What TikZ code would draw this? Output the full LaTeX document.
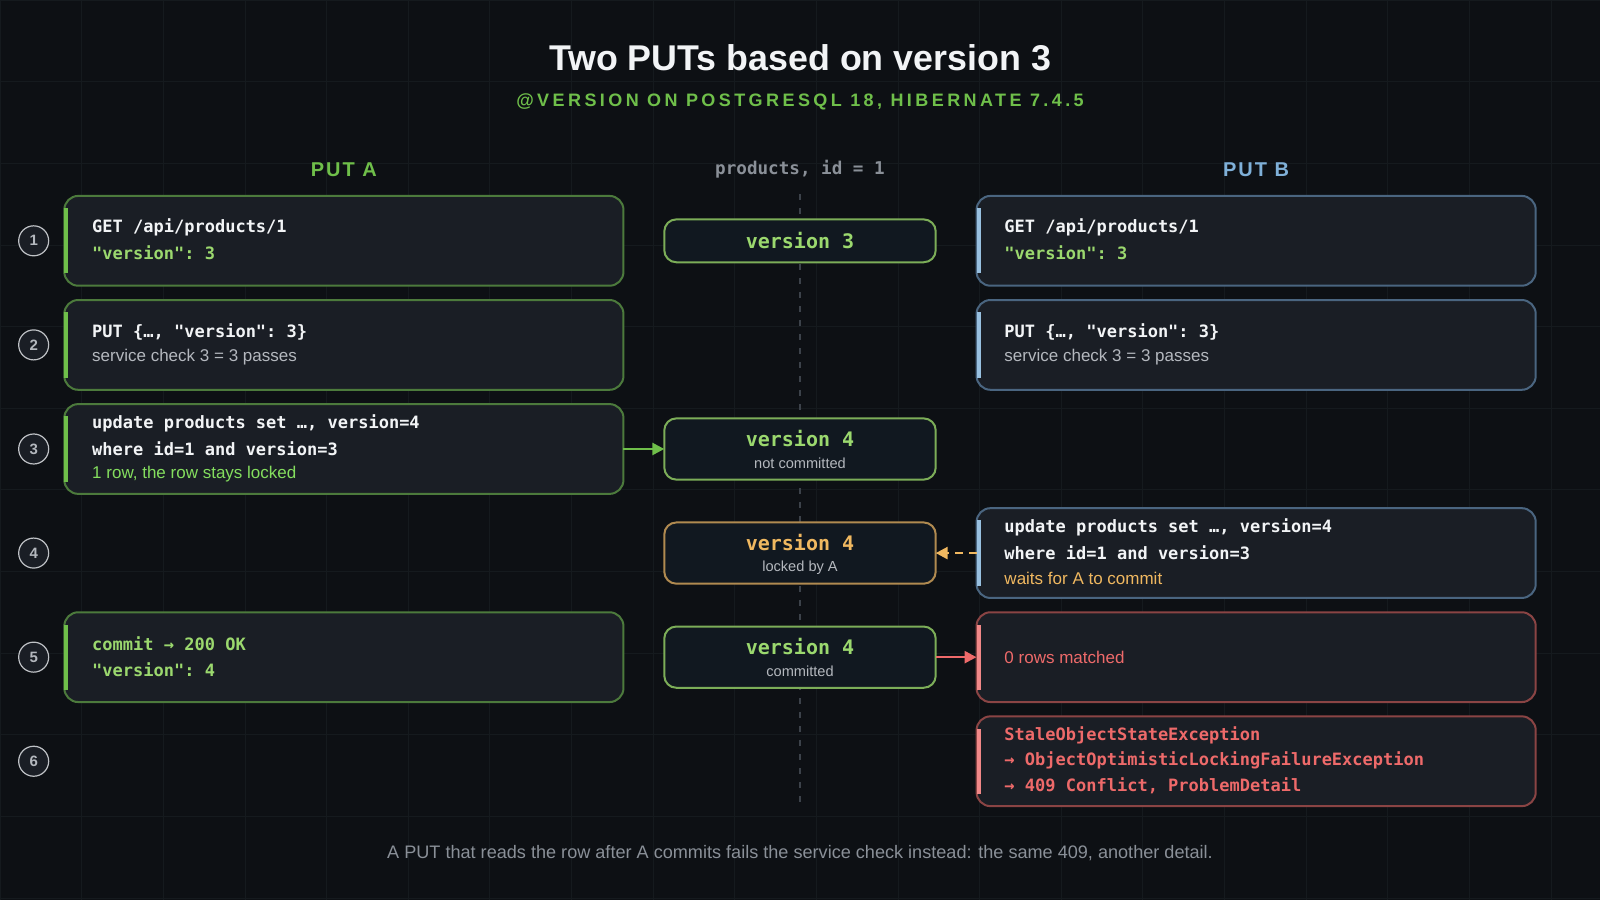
\documentclass[tikz,border=0pt]{standalone}
\usepackage{fontspec}
\setmainfont{Liberation Sans}
\setmonofont{DejaVu Sans Mono}
\usetikzlibrary{arrows.meta}
\definecolor{bg}{HTML}{0D1014}
\definecolor{gridc}{HTML}{151A1E}
\definecolor{boxf}{HTML}{1A1E25}
\definecolor{midf}{HTML}{111820}
\definecolor{gb}{HTML}{4C7A3C}
\definecolor{gt}{HTML}{9BD86E}
\definecolor{gl}{HTML}{6FBF4A}
\definecolor{bb}{HTML}{4A6580}
\definecolor{bt}{HTML}{7FB0D8}
\definecolor{ob}{HTML}{B08A50}
\definecolor{ot}{HTML}{F0B860}
\definecolor{rb}{HTML}{8A4444}
\definecolor{rt}{HTML}{EE6A6A}
\definecolor{grayt}{HTML}{B4B8BE}
\definecolor{dimt}{HTML}{8A9098}
\definecolor{vline}{HTML}{3C424A}
\definecolor{wt}{HTML}{F2F4F6}
\begin{document}
\begin{tikzpicture}[x=0.5102pt,y=-0.5102pt,
  card/.style={rounded corners=7pt,line width=1pt,fill=boxf},
  mid/.style={rounded corners=6pt,line width=1pt,fill=midf},
  mono/.style={font=\ttfamily\bfseries\fontsize{8.5}{12.2}\selectfont,align=left,anchor=west,inner sep=0pt},
  sans/.style={font=\fontsize{8.5}{12.2}\selectfont,anchor=west,inner sep=0pt},
  num/.style={circle,draw=dimt!55,line width=0.6pt,fill=boxf,minimum size=15pt,inner sep=0pt,font=\bfseries\fontsize{7.5}{9}\selectfont,text=grayt},
  ver/.style={font=\ttfamily\bfseries\fontsize{10}{12}\selectfont},
  sub/.style={font=\fontsize{7.3}{9}\selectfont,text=grayt}]
\fill[bg] (0,0) rectangle (1568,882);
\useasboundingbox (0,0) rectangle (1568,882);
\foreach \i in {0,80,...,1560} \draw[gridc,line width=0.4pt] (\i,0)--(\i,882);
\foreach \j in {0,80,...,880} \draw[gridc,line width=0.4pt] (0,\j)--(1568,\j);
% titles
\node[font=\bfseries\fontsize{17.9}{21}\selectfont,text=wt] (title) at (784,57) {Two PUTs based on version 3};
\node[font=\bfseries\fontsize{9}{11}\selectfont\addfontfeatures{LetterSpace=19},text=gl] (subt) at (784,100) {@VERSION ON POSTGRESQL 18, HIBERNATE 7.4.5};
\node[font=\bfseries\fontsize{10}{12}\selectfont\addfontfeatures{LetterSpace=10},text=gl] (ha) at (337,166) {PUT A};
\node[font=\bfseries\fontsize{10}{12}\selectfont\addfontfeatures{LetterSpace=10},text=bt] (hb) at (1231,166) {PUT B};
\node[font=\ttfamily\bfseries\fontsize{8.8}{10}\selectfont,text=dimt] (hm) at (784,166) {products, id = 1};
\draw[vline,line width=0.6pt,dash pattern=on 3pt off 4pt] (784,190)--(784,790);
% numbers
\foreach \n/\y in {1/236,2/338,3/440,4/542,5/644,6/746} \node[num] (n\n) at (33,\y) {\n};
% left cards
\foreach \t/\nm in {192/a1,294/a2,396/a3,600/a5}{
  \draw[card,draw=gb] (63,\t) rectangle (611,\t+88);
  \fill[gl] (63,\t+12) rectangle (67,\t+76);
  \coordinate (\nm) at (611,\t+44);}
% right cards
\foreach \t/\c/\d/\nm in {192/bb/bt/b1,294/bb/bt/b2,498/bb/bt/b4,600/rb/rt/b5,702/rb/rt/b6}{
  \draw[card,draw=\c] (957,\t) rectangle (1505,\t+88);
  \fill[\d!80] (957,\t+12) rectangle (961,\t+76);
  \coordinate (\nm) at (957,\t+44);}
% left texts
\node[mono,text=wt] (ta1) at (90,223) {GET /api/products/1};
\node[mono,text=gt] (ta1b) at (90,248) {"version": 3};
\node[mono,text=wt] (ta2) at (90,325) {PUT \{…, "version": 3\}};
\node[sans,text=grayt] (ta2b) at (90,350) {service check 3 = 3 passes};
\node[mono,text=wt] (ta3) at (90,415) {update products set …, version=4};
\node[mono,text=wt] (ta3b) at (90,440) {where id=1 and version=3};
\node[sans,text=gt!85!green] (ta3c) at (90,465) {1 row, the row stays locked};
\node[mono,text=gt] (ta5) at (90,631) {commit → 200 OK};
\node[mono,text=gt] (ta5b) at (90,656) {"version": 4};
% right texts
\node[mono,text=wt] (tb1) at (984,223) {GET /api/products/1};
\node[mono,text=gt] (tb1b) at (984,248) {"version": 3};
\node[mono,text=wt] (tb2) at (984,325) {PUT \{…, "version": 3\}};
\node[sans,text=grayt] (tb2b) at (984,350) {service check 3 = 3 passes};
\node[mono,text=wt] (tb4) at (984,517) {update products set …, version=4};
\node[mono,text=wt] (tb4b) at (984,542) {where id=1 and version=3};
\node[sans,text=ot] (tb4c) at (984,567) {waits for A to commit};
\node[sans,text=rt] (tb5) at (984,644) {0 rows matched};
\node[mono,text=rt] (tb6) at (984,721) {StaleObjectStateException};
\node[mono,text=rt] (tb6b) at (984,745) {→ ObjectOptimisticLockingFailureException};
\node[mono,text=rt] (tb6c) at (984,770) {→ 409 Conflict, ProblemDetail};
% middle
\draw[mid,draw=gt!80!black] (651,215) rectangle (917,257);
\node[ver,text=gt] (m1) at (784,236) {version 3};
\draw[mid,draw=gt!80!black] (651,410) rectangle (917,470);
\node[ver,text=gt] (m3) at (784,430) {version 4};
\node[sub] (m3s) at (784,454) {not committed};
\draw[mid,draw=ob] (651,512) rectangle (917,572);
\node[ver,text=ot] (m4) at (784,532) {version 4};
\node[sub] (m4s) at (784,556) {locked by A};
\draw[mid,draw=gt!80!black] (651,614) rectangle (917,674);
\node[ver,text=gt] (m5) at (784,634) {version 4};
\node[sub] (m5s) at (784,658) {committed};
\coordinate (m3l) at (651,440);
\coordinate (m4r) at (917,542);
\coordinate (m5r) at (917,644);
% arrows
\draw[gl,line width=1.3pt,-{Triangle[length=6pt,width=6pt]}] (a3)--(m3l);
\draw[ot,line width=1.3pt,dash pattern=on 4pt off 3pt,-{Triangle[length=6pt,width=6pt]}] (b4)--(m4r);
\draw[rt,line width=1.3pt,-{Triangle[length=6pt,width=6pt]}] (m5r)--(b5);
% footer
\node[font=\fontsize{9.05}{11}\selectfont,text=dimt] (foot) at (784,836) {A PUT that reads the row after A commits fails the service check instead: the same 409, another detail.};
\end{tikzpicture}
\end{document}
